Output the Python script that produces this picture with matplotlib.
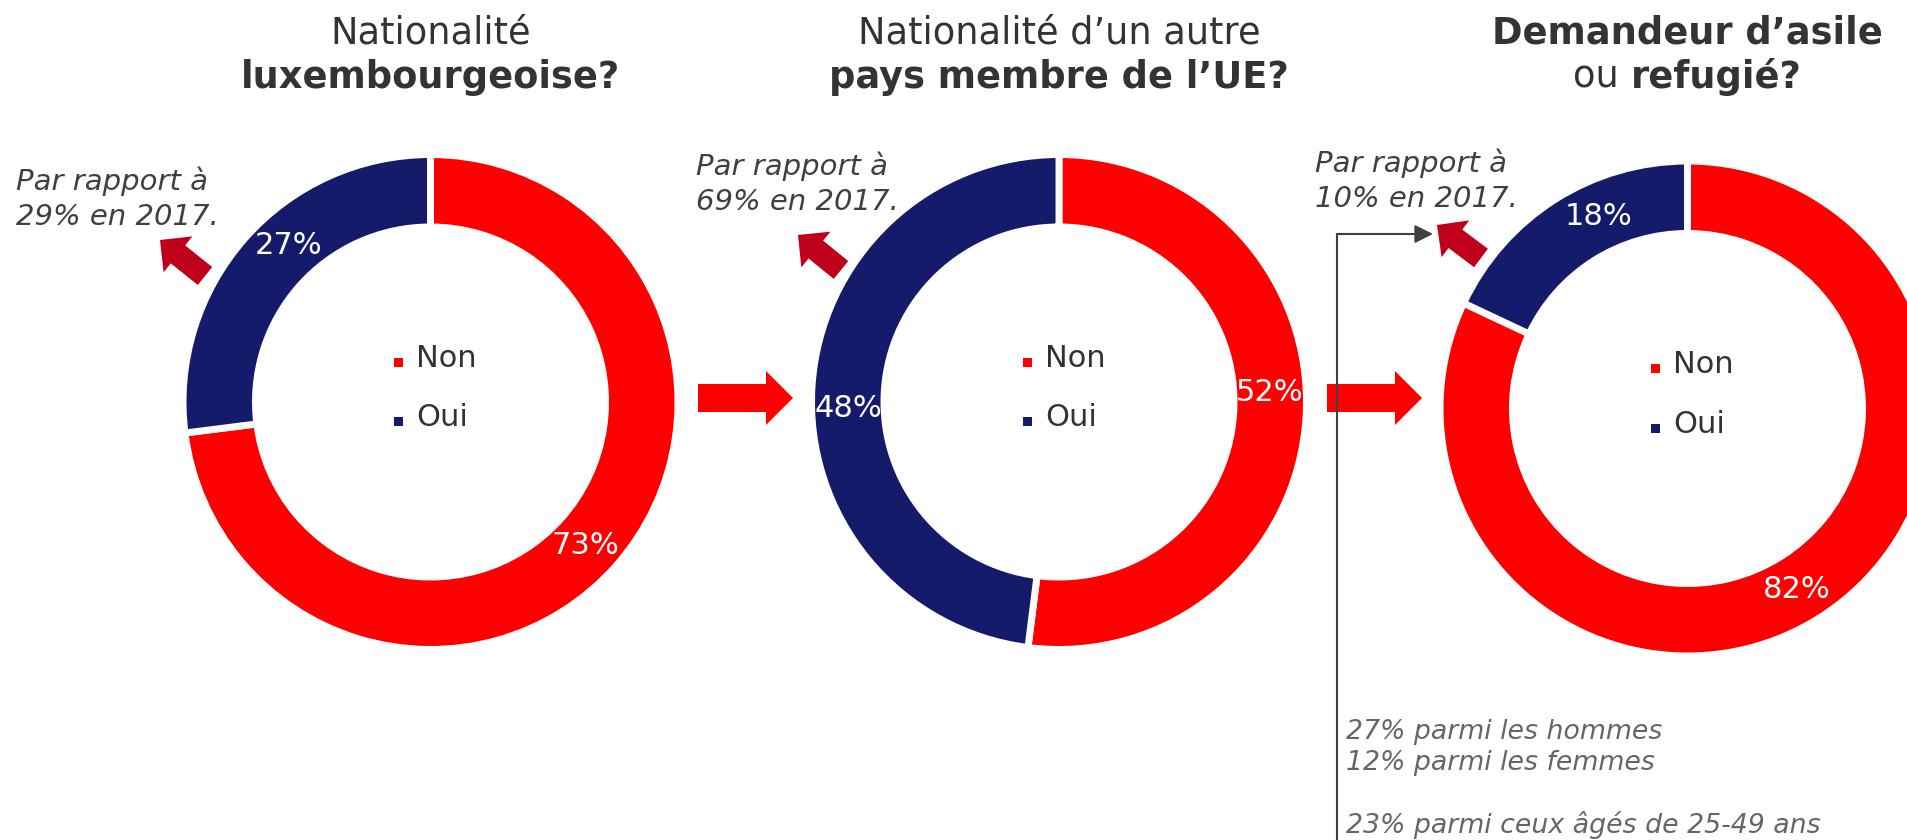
import matplotlib
matplotlib.use("Agg")
import numpy as np
import matplotlib.pyplot as plt
import matplotlib.patches as mpatches
from matplotlib.legend_handler import HandlerPatch

# ---------------- data ----------------
categories = ["Non", "Oui"]
values_lux = [73, 27]
values_ue = [52, 48]
values_asile = [82, 18]
colors = ["#FF0000", "#141B6B"]

title_lines = [
    [[("Nationalité", "normal")], [("luxembourgeoise?", "bold")]],
    [[("Nationalité d’un autre", "normal")], [("pays membre de l’UE?", "bold")]],
    [[("Demandeur d’asile", "bold")], [("ou", "normal"), ("refugié?", "bold")]],
]
notes_2017 = [
    ["Par rapport à", "29% en 2017."],
    ["Par rapport à", "69% en 2017."],
    ["Par rapport à", "10% en 2017."],
]
sub_notes = ["27% parmi les hommes", "12% parmi les femmes", "",
             "23% parmi ceux âgés de 25-49 ans"]

# ---------------- layout ----------------
W, H, DPI = 1908, 840, 100
fig = plt.figure(figsize=(W / DPI, H / DPI), dpi=DPI)
fig.patch.set_facecolor("white")

LW_PT = 5
lw_px = LW_PT * DPI / 72
R_VIS = 244
R_PIE = R_VIS + lw_px / 2
INNER_VIS = 178.5
ring_width = 1 - (INNER_VIS - lw_px / 2) / R_PIE
centers = [(430.5, 402), (1059, 402), (1687.5, 408.5)]
all_values = [values_lux, values_ue, values_asile]
# small angular nudges (degrees) of the percentage labels, as placed in the original
label_nudges = [[-1.6, -6.4], [6.3, 5.3], [-1.3, -7.6]]
PCT_DIST = 0.853

TXT = "#333333"


def square_handle(legend, orig_handle, xdescent, ydescent, width, height, fontsize):
    s = 6.5
    return mpatches.Rectangle((-xdescent + width - s, -ydescent), s, s)


for (cx, cy), vals, nudges in zip(centers, all_values, label_nudges):
    ax = fig.add_axes([(cx - R_PIE) / W, (H - cy - R_PIE) / H, 2 * R_PIE / W, 2 * R_PIE / H])
    wedges, _, autotexts = ax.pie(
        vals, colors=colors, startangle=90, counterclock=False, radius=1,
        wedgeprops=dict(width=ring_width, edgecolor="white", linewidth=LW_PT),
        autopct=lambda p: f"{p:.0f}%", pctdistance=PCT_DIST,
        textprops=dict(color="white", fontsize=22),
    )
    for w, t, dn in zip(wedges, autotexts, nudges):
        ang = np.deg2rad((w.theta1 + w.theta2) / 2 + dn)
        t.set_position((PCT_DIST * np.cos(ang), PCT_DIST * np.sin(ang)))
    ax.set_xlim(-1, 1)
    ax.set_ylim(-1, 1)
    ax.set_aspect("equal")
    proxies = [mpatches.Patch(facecolor=c, edgecolor="none") for c in colors]
    ax.legend(proxies, categories, loc="center", bbox_to_anchor=(0.51, 0.528),
              frameon=False, fontsize=22, labelcolor=TXT,
              handlelength=0.3, handleheight=0.7, handletextpad=0.43,
              labelspacing=1.0, borderpad=0, borderaxespad=0,
              handler_map={mpatches.Patch: HandlerPatch(patch_func=square_handle)})

# ---------------- overlay ----------------
ov = fig.add_axes([0, 0, 1, 1])
ov.set_xlim(0, W)
ov.set_ylim(H, 0)
ov.axis("off")
ov.patch.set_alpha(0)

renderer = fig.canvas.get_renderer()
TITLE_FS = 26.5
title_baselines = [43, 88]
for (cx, _), lines in zip(centers, title_lines):
    for base, parts in zip(title_baselines, lines):
        if len(parts) == 1:
            txt, wt = parts[0]
            ov.text(cx, base, txt, ha="center", va="baseline", fontsize=TITLE_FS,
                    fontweight=wt, color=TXT)
        else:
            objs = [ov.text(0, base, t, ha="left", va="baseline", fontsize=TITLE_FS,
                            fontweight=w, color=TXT) for t, w in parts]
            widths = [o.get_window_extent(renderer).width for o in objs]
            gap = 12
            total = sum(widths) + gap * (len(objs) - 1)
            x = cx - total / 2
            for o, w in zip(objs, widths):
                o.set_x(x)
                x += w + gap

note_pos = [(15.6, 190), (696, 175), (1315.5, 172)]
for (nx, ny), lines in zip(note_pos, notes_2017):
    for i, line in enumerate(lines):
        ov.text(nx, ny + 35 * i, line, ha="left", va="baseline", fontsize=21,
                style="italic", color="#404040")

# small dark-red arrows (tail -> tip)
small_arrows = [((205, 276), (160, 240)), ((841, 270), (798, 235)), ((1481, 258), (1437, 225))]
for (tx, ty), (hx, hy) in small_arrows:
    ov.add_patch(mpatches.FancyArrow(tx, ty, hx - tx, hy - ty, width=23, head_width=46,
                                     head_length=23, length_includes_head=True,
                                     color="#C0001A", lw=0))

# big red arrows between donuts
for x0 in (698, 1327):
    ov.add_patch(mpatches.FancyArrow(x0, 398, 95, 0, width=28, head_width=54,
                                     head_length=27, length_includes_head=True,
                                     color="#FF0000", lw=0))

# connector
ov.plot([1337.5, 1337.5], [H, 234], color="#404040", lw=1.5, solid_capstyle="butt")
ov.annotate("", xy=(1433, 234), xytext=(1336.8, 234),
            arrowprops=dict(arrowstyle="-|>,head_length=1.1,head_width=0.55",
                            color="#404040", lw=1.5, shrinkA=0, shrinkB=0))

sub_baselines = [739, 770, 801, 833]
for yb, line in zip(sub_baselines, sub_notes):
    if line:
        ov.text(1346.5, yb, line, ha="left", va="baseline", fontsize=19.3,
                style="italic", color="#666666")

fig.savefig("out.png", dpi=DPI, facecolor="white")
